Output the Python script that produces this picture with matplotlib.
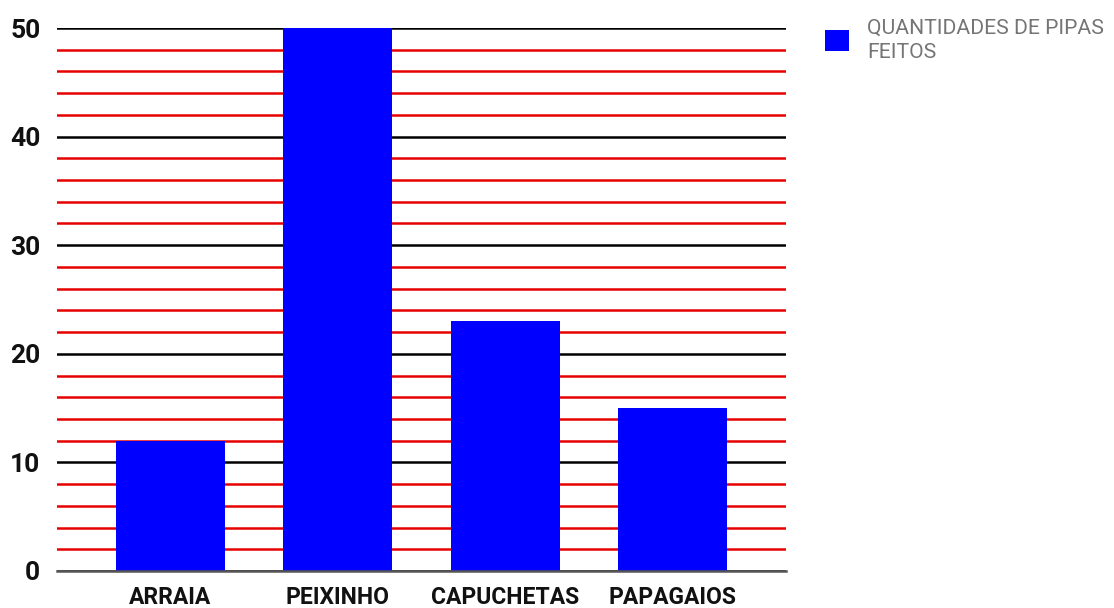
import matplotlib
matplotlib.use("Agg")
import matplotlib.pyplot as plt
from matplotlib.ticker import MultipleLocator
from matplotlib.patches import Patch

categories = ["ARRAIA", "PEIXINHO", "CAPUCHETAS", "PAPAGAIOS"]
values = [12, 50, 23, 15]
series_label = "QUANTIDADES DE PIPAS\nFEITOS"
y_ticks = [0, 10, 20, 30, 40, 50]

plt.rcParams['font.family'] = ['Roboto', 'DejaVu Sans']

fig = plt.figure(figsize=(11.14, 6.08), dpi=100)
ax = fig.add_axes([57/1114, 1-571/608, (786-57)/1114, (571-28)/608])

x = list(range(len(categories)))
ax.bar(x, values, width=0.65, color="#0000ff", zorder=3)

ax.set_xlim(-0.677, 3.677)
ax.set_ylim(0, 50)
ax.set_yticks(y_ticks)
ax.yaxis.set_minor_locator(MultipleLocator(2))
ax.grid(which="major", axis="y", color="black", linewidth=1.8, zorder=1)
ax.grid(which="minor", axis="y", color="#e60000", linewidth=1.8, zorder=1)
ax.set_axisbelow(True)

ax.set_xticks(x)
ax.set_xticklabels(categories, fontsize=16.5, fontweight="bold", color="#111111")
ax.tick_params(axis="x", length=0, pad=11)
ax.tick_params(axis="y", which="both", length=0, pad=12, labelsize=19)
for lab in ax.get_yticklabels():
    lab.set_fontweight("bold")
    lab.set_color("#111111")

for s in ["top", "right", "left"]:
    ax.spines[s].set_visible(False)
ax.spines["bottom"].set_color("#555555")
ax.spines["bottom"].set_linewidth(1.8)
ax.spines["bottom"].set_zorder(4)

handle = Patch(facecolor="#0000ff", edgecolor="none")
leg = fig.legend([handle], [series_label], loc="upper left",
                 bbox_to_anchor=(806/1114, 1-0/608), frameon=False,
                 fontsize=15.2, handlelength=1.15, handleheight=1.15,
                 handletextpad=0.85, labelspacing=0.3)
for t in leg.get_texts():
    t.set_color("#757575")
    t.set_linespacing(1.3)

fig.savefig("out.png", dpi=100)
